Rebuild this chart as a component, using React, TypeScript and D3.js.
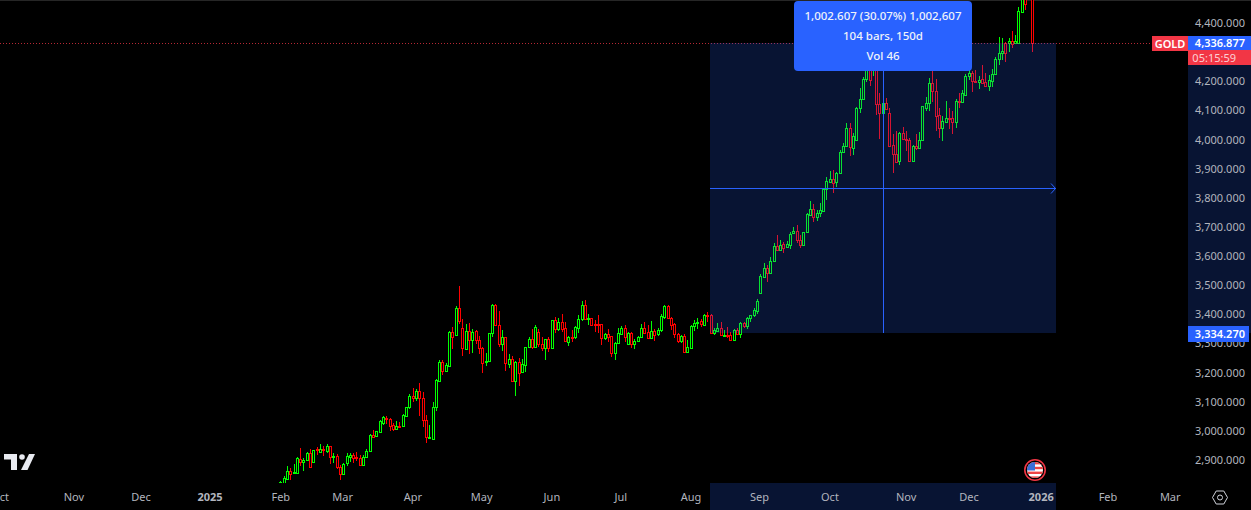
import React from "react";
import * as d3 from "d3";

const opens = [
  2790,2819,2834,2861,2852,2855,2903,2892,2900,2924,
  2892,2935,2927,2935,2930,2948,2908,2911,2873,2851,
  2887,2910,2914,2907,2906,2882,2910,2928,2984,2979,
  2996,3025,3041,3039,3017,3006,3014,3014,3051,3079,
  3118,3110,3134,3110,3034,2975,2972,3079,3171,3233,
  3205,3222,3336,3328,3420,3350,3280,3342,3310,3340,
  3309,3284,3236,3237,3333,3432,3360,3297,3319,3229,
  3244,3171,3233,3199,3225,3285,3312,3287,3338,3296,
  3284,3312,3284,3378,3349,3372,3350,3304,3319,3319,
  3350,3381,3429,3382,3384,3365,3365,3365,3318,3331,
  3323,3267,3299,3331,3353,3295,3333,3295,3308,3319,
  3351,3338,3318,3342,3331,3345,3390,3427,3384,3365,
  3332,3308,3323,3270,3284,3357,3370,3374,3363,3396,
  3396,3335,3342,3352,3328,3329,3328,3310,3343,3332,
  3370,3359,3387,3395,3411,3472,3526,3556,3541,3580,
  3633,3618,3639,3628,3636,3676,3683,3652,3637,3680,
  3740,3759,3731,3745,3754,3827,3853,3862,3851,3882,
  3954,3977,4037,3968,3996,4105,4136,4205,4280,4237,
  4300,4119,4091,4123,4088,3978,3948,3926,4020,3999,
  3997,3926,3975,3970,3996,4108,4123,4191,4165,4081,
  4039,4060,4071,4071,4060,4131,4126,4151,4216,4226,
  4200,4197,4205,4195,4182,4200,4223,4275,4294,4328,
  4328,4337,4328,4331,4437,4510,4490,4490,
];
const highs = [
  2826,2842,2878,2870,2884,2907,2938,2904,2926,2935,
  2932,2942,2952,2946,2952,2948,2924,2918,2881,2889,
  2924,2924,2921,2926,2915,2914,2935,2986,3001,2999,
  3035,3048,3051,3041,3027,3032,3030,3055,3081,3124,
  3144,3141,3162,3131,3053,3018,3096,3175,3241,3241,
  3230,3341,3354,3426,3495,3382,3365,3370,3347,3344,
  3325,3285,3264,3334,3434,3434,3410,3344,3322,3262,
  3255,3238,3247,3245,3285,3319,3347,3362,3347,3319,
  3314,3319,3379,3390,3384,3399,3372,3325,3344,3358,
  3396,3444,3447,3399,3387,3379,3396,3365,3335,3347,
  3324,3304,3353,3358,3362,3339,3336,3312,3324,3365,
  3371,3362,3375,3348,3353,3398,3430,3432,3388,3367,
  3335,3327,3331,3310,3360,3379,3384,3381,3399,3405,
  3399,3353,3367,3371,3344,3356,3339,3347,3350,3373,
  3373,3388,3396,3419,3451,3537,3573,3568,3596,3642,
  3671,3653,3648,3651,3680,3697,3705,3671,3682,3745,
  3788,3777,3756,3779,3828,3871,3890,3894,3886,3962,
  3985,4054,4054,4020,4109,4174,4214,4300,4310,4320,
  4381,4159,4125,4142,4105,4017,4029,4025,4040,4029,
  4002,3980,4017,4023,4113,4145,4208,4235,4205,4105,
  4079,4131,4105,4096,4136,4157,4168,4223,4243,4235,
  4237,4216,4254,4228,4220,4239,4283,4349,4346,4334,
  4346,4371,4357,4454,4510,4530,4535,4530,
];
const lows = [
  2780,2810,2832,2831,2852,2852,2877,2861,2898,2875,
  2891,2915,2923,2913,2921,2886,2889,2869,2831,2851,
  2879,2892,2889,2895,2881,2879,2907,2927,2975,2978,
  2995,3018,3023,2999,2999,3004,3007,3012,3049,3075,
  3098,3102,3050,3012,2955,2972,2967,3067,3170,3190,
  3204,3221,3279,3327,3365,3255,3279,3262,3264,3296,
  3262,3198,3221,3236,3322,3359,3287,3273,3205,3215,
  3167,3119,3153,3198,3201,3284,3278,3284,3287,3273,
  3241,3270,3283,3335,3342,3339,3303,3291,3302,3313,
  3335,3376,3379,3362,3359,3339,3333,3293,3310,3304,
  3251,3241,3296,3327,3304,3293,3284,3278,3304,3316,
  3333,3318,3316,3307,3325,3339,3382,3381,3344,3316,
  3299,3301,3268,3268,3281,3342,3347,3356,3362,3373,
  3335,3327,3339,3328,3327,3316,3310,3308,3331,3318,
  3353,3348,3373,3388,3399,3468,3524,3510,3539,3579,
  3617,3617,3610,3625,3623,3674,3644,3627,3635,3676,
  3736,3716,3720,3734,3753,3791,3850,3816,3834,3881,
  3951,3976,3943,3945,3994,4088,4134,4197,4183,4218,
  4083,4000,4088,4102,3972,3882,3922,3911,3997,3959,
  3926,3925,3962,3970,3994,4096,4097,4128,4029,4005,
  3994,4056,4036,4017,4039,4105,4126,4148,4203,4163,
  4193,4171,4191,4182,4166,4180,4222,4254,4271,4266,
  4300,4311,4328,4329,4431,4443,4482,4300,
];
const closes = [
  2822,2835,2861,2851,2857,2904,2892,2900,2921,2875,
  2931,2932,2935,2934,2948,2910,2911,2873,2851,2885,
  2911,2914,2906,2906,2882,2910,2928,2984,2978,2998,
  3031,3045,3039,3016,3006,3014,3012,3053,3079,3119,
  3110,3134,3110,3034,2976,2976,3079,3173,3233,3205,
  3223,3338,3322,3420,3374,3284,3342,3310,3339,3310,
  3284,3232,3238,3333,3432,3360,3297,3322,3230,3244,
  3171,3233,3196,3227,3285,3312,3287,3354,3296,3284,
  3312,3284,3378,3349,3372,3349,3306,3319,3318,3355,
  3381,3429,3381,3384,3362,3364,3364,3318,3332,3322,
  3267,3299,3333,3353,3320,3333,3296,3308,3319,3351,
  3335,3318,3342,3327,3343,3391,3427,3384,3363,3332,
  3308,3323,3270,3286,3357,3370,3372,3365,3396,3395,
  3335,3343,3353,3328,3329,3328,3311,3343,3332,3367,
  3359,3387,3395,3413,3444,3530,3556,3541,3580,3633,
  3618,3635,3627,3639,3674,3683,3653,3637,3680,3743,
  3759,3731,3745,3755,3827,3856,3862,3850,3882,3954,
  3977,4037,3972,4012,4105,4136,4206,4290,4203,4300,
  4119,4088,4123,4103,3977,3948,3922,4020,3999,3997,
  3926,3975,3970,3996,4112,4123,4191,4166,4078,4039,
  4062,4071,4070,4060,4131,4126,4157,4216,4226,4199,
  4199,4203,4191,4182,4203,4223,4275,4294,4303,4296,
  4337,4327,4335,4439,4495,4463,4520,4330,
];

const priceTicks = [4400,4300,4200,4100,4000,3900,3800,3700,3600,3500,3400,3300,3200,3100,3000,2900];
const timeLabels = ["Oct","Nov","Dec","2025","Feb","Mar","Apr","May","Jun","Jul","Aug","Sep","Oct","Nov","Dec","2026","Feb","Mar"];
const timeBars = [-84.8,-62.5,-42.2,-21.4,0,18.7,39.9,60.7,81.9,102.7,123.9,144.6,165.9,188.9,207.9,229.7,249.9,268.7];
const measureStartBar = 129.7;
const measureEndBar = 234.3;
const measureLow = 3334.27;
const measureHigh = 4331;
const measureMid = 3830.5;
const measureBar = 182.2;
const tooltipLines = ["1,002.607 (30.07%) 1,002,607", "104 bars, 150d", "Vol 46"];

const W = 1251, H = 510, PANE_BOTTOM = 483, AXIS_X = 1188;
const FONT = "'Noto Sans', sans-serif";
const UP = "#00ff00", DOWN = "#ff0000", BLUE = "#2962ff", LABEL_RED = "#f23645", TEXT = "#b2b5be";

const x = d3.scaleLinear().domain([0, 227]).range([280.8, 1032.2]);
const y = d3.scaleLinear().domain([2900, 4400]).range([459.5, 22.5]);
const fmt = d3.format(",.3f");

export default function App() {
  const mx0 = Math.round(x(measureStartBar));
  const mx1 = Math.round(x(measureEndBar));
  const my0 = Math.round(y(measureHigh));
  const my1 = Math.round(y(measureLow));
  const mid = Math.floor(y(measureMid)) + 0.5;
  const vx = Math.floor(x(measureBar)) + 0.5;
  const stripes = d3.range(0, 7);
  return (
    <svg width={W} height={H} style={{ position: "absolute", left: 0, top: 0, display: "block", background: "#000" }} fontFamily={FONT}>
      <defs>
        <clipPath id="pane"><rect x={0} y={0} width={AXIS_X} height={PANE_BOTTOM} /></clipPath>
        <clipPath id="flag"><circle cx={1035} cy={470} r={8} /></clipPath>
      </defs>
      <rect width={W} height={H} fill="#000" />
      <rect width={W} height={1} fill="#262626" />

      <g clipPath="url(#pane)">
        {opens.map((o, i) => {
          const c = closes[i];
          const col = c >= o ? UP : DOWN;
          const px = Math.floor(x(i));
          const t = Math.round(y(Math.max(o, c)));
          const b = Math.round(y(Math.min(o, c)));
          return (
            <g key={i} stroke={col} shapeRendering="crispEdges">
              <line x1={px + 0.5} x2={px + 0.5} y1={Math.round(y(highs[i]))} y2={Math.round(y(lows[i]))} />
              <rect x={px - 0.5} y={t + 0.5} width={2} height={Math.max(b - t, 1)} fill="#000" />
            </g>
          );
        })}
      </g>

      <line x1={0} x2={1152} y1={my0 + 0.5} y2={my0 + 0.5} stroke={LABEL_RED} strokeOpacity={0.75} strokeDasharray="1 2" />

      {/* measure tool */}
      <rect x={mx0} y={my0} width={mx1 - mx0} height={my1 - my0} fill={BLUE} fillOpacity={0.2} />
      <rect x={mx0} y={PANE_BOTTOM} width={mx1 - mx0} height={H - PANE_BOTTOM} fill={BLUE} fillOpacity={0.2} />
      <rect x={AXIS_X} y={my0} width={W - AXIS_X} height={my1 - my0} fill={BLUE} fillOpacity={0.2} />
      <line x1={mx0} x2={mx1} y1={mid} y2={mid} stroke={BLUE} />
      <path d={`M${mx1 - 5},${mid - 5}L${mx1 - 0.5},${mid}L${mx1 - 5},${mid + 5}`} fill="none" stroke={BLUE} />
      <line x1={vx} x2={vx} y1={71} y2={my1} stroke={BLUE} />
      <rect x={794} y={1} width={178} height={70} rx={4} fill={BLUE} />
      {tooltipLines.map((s, i) => (
        <text key={i} x={883} y={15 + i * 20} textAnchor="middle" dominantBaseline="central" fontSize={11.5} fontWeight={500} fill="#f0f3fa">{s}</text>
      ))}

      {/* price axis */}
      {priceTicks.map((p) => (
        <text key={p} x={1245} y={y(p)} textAnchor="end" dominantBaseline="central" fontSize={11} fill={TEXT}>{fmt(p)}</text>
      ))}
      <rect x={1152} y={36} width={36} height={15} fill={LABEL_RED} />
      <text x={1170} y={43.5} textAnchor="middle" dominantBaseline="central" fontSize={11} fontWeight={600} fill="#fff">GOLD</text>
      <rect x={AXIS_X} y={36} width={W - AXIS_X} height={14} fill={BLUE} />
      <rect x={AXIS_X} y={50} width={W - AXIS_X} height={15} fill={LABEL_RED} />
      <text x={1245} y={42.5} textAnchor="end" dominantBaseline="central" fontSize={11} fontWeight={600} fill="#fff">4,336.877</text>
      <text x={1236} y={57} textAnchor="end" dominantBaseline="central" fontSize={11} fill="#fcd0d5">05:15:59</text>
      <rect x={AXIS_X} y={326} width={61} height={16} fill={BLUE} />
      <text x={1245} y={333.5} textAnchor="end" dominantBaseline="central" fontSize={11} fontWeight={600} fill="#fff">3,334.270</text>

      {/* time axis */}
      {timeLabels.map((s, i) => (
        <text key={i} x={x(timeBars[i])} y={496} textAnchor="middle" dominantBaseline="central" fontSize={11} fontWeight={s.length === 4 ? 700 : 400} fill={TEXT}>{s}</text>
      ))}

      {/* settings icon */}
      <path d="M1212.5,497.5L1216.2,491L1223.8,491L1227.5,497.5L1223.8,504L1216.2,504Z" fill="none" stroke="#d1d4dc" />
      <circle cx={1220} cy={497.5} r={2.5} fill="none" stroke="#d1d4dc" />

      {/* event flag */}
      <circle cx={1035} cy={470} r={10.2} fill="#000" stroke={LABEL_RED} strokeWidth={1.6} />
      <g clipPath="url(#flag)">
        <rect x={1026} y={461} width={18} height={18} fill="#fff" />
        {stripes.map((k) => k % 2 === 0 ? <rect key={k} x={1026} y={462 + k * 2.4} width={18} height={2.4} fill="#ef4444" /> : null)}
        <rect x={1026} y={461} width={9} height={9.5} fill="#3b6fd8" />
      </g>

      {/* logo */}
      <path d="M4,454H17V470H11V459.5H4Z M29,454H35L27.5,470H21Z" fill="#e8eaf0" />
      <circle cx={22} cy={457} r={2.8} fill="#e8eaf0" />
    </svg>
  );
}
